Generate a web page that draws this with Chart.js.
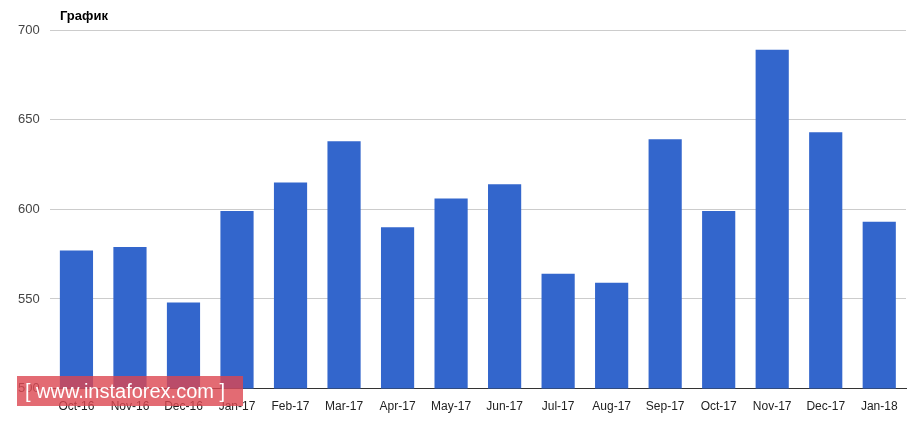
<!DOCTYPE html>
<html>
<head>
<meta charset="utf-8">
<script src="https://cdn.jsdelivr.net/npm/chart.js"></script>
<style>
  body { margin: 0; background: #fff; font-family: Arial, "Liberation Sans", sans-serif; }
  #wrap { position: relative; width: 923px; height: 423px; }
  #title { position: absolute; left: 60px; top: 8px; font-size: 13px; font-weight: bold; color: #000; }
  #mark { position: absolute; left: 17px; top: 376px; width: 226px; height: 30px; background: rgba(220,70,80,0.8);
          color: #fff; font-size: 20px; line-height: 30px; padding-left: 8px; box-sizing: border-box; }
</style>
</head>
<body>
<div id="wrap">
  <canvas id="myChart" width="923" height="423"></canvas>
  <div id="title">График</div>
  <div id="mark">[ www.instaforex.com ]</div>
</div>
<script>
const months = ['Oct-16', 'Nov-16', 'Dec-16', 'Jan-17', 'Feb-17', 'Mar-17', 'Apr-17', 'May-17',
                'Jun-17', 'Jul-17', 'Aug-17', 'Sep-17', 'Oct-17', 'Nov-17', 'Dec-17', 'Jan-18'];
const values = [577, 579, 548, 599, 615, 638, 590, 606, 614, 564, 559, 639, 599, 689, 643, 593];
const yTicks = [500, 550, 600, 650, 700];

const ctx = document.getElementById('myChart');
const myChart = new Chart(ctx, {
  type: 'bar',
  data: {
    labels: months,
    datasets: [{
      data: values,
      backgroundColor: '#3366cc',
      categoryPercentage: 1,
      barPercentage: 0.62
    }]
  },
  options: {
    responsive: false,
    animation: false,
    layout: { padding: { left: 8, right: 17, top: 30, bottom: 6 } },
    plugins: { legend: { display: false }, tooltip: { enabled: false } },
    scales: {
      x: {
        grid: { display: false },
        border: { color: '#333' },
        ticks: { color: '#222', font: { size: 12, family: 'Arial' }, maxRotation: 0, autoSkip: false }
      },
      y: {
        min: 500, max: 700,
        afterBuildTicks: axis => { axis.ticks = yTicks.map(v => ({ value: v })); },
        grid: { color: '#ccc', drawTicks: false },
        border: { display: false },
        ticks: { color: '#444', font: { size: 13, family: 'Arial' }, padding: 10 }
      }
    }
  }
});
</script>
</body>
</html>
